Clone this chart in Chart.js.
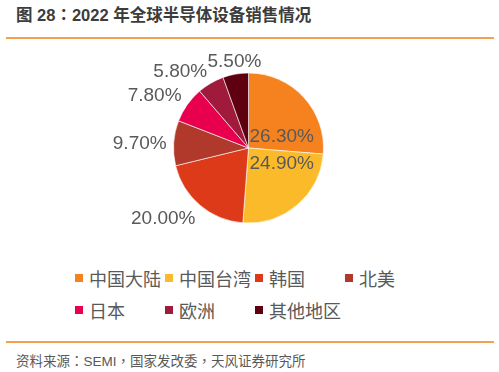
<!DOCTYPE html>
<html>
<head>
<meta charset="utf-8">
<script src="https://cdn.jsdelivr.net/npm/chart.js@4"></script>
<style>
    html, body { margin: 0; padding: 0; background: #fff; }
    body { width: 499px; height: 372px; position: relative; overflow: hidden;
           font-family: "Liberation Sans", "Noto Sans CJK SC", sans-serif; }
    .title { position: absolute; left: 16px; top: 2px; font-size: 16.5px; font-weight: bold; color: #3c3c3c; white-space: nowrap; }
    .rule { position: absolute; left: 6px; width: 488px; height: 2px; background: #f4a04c; }
    .chart-box { position: absolute; left: 0; top: 40px; width: 499px; height: 216px; }
    .legend { position: absolute; left: 75px; top: 262px; display: grid;
              grid-template-columns: 90px 90px 90px 90px; grid-auto-rows: 32px; }
    .legend-item { display: flex; align-items: center; font-size: 18px; color: #595959; white-space: nowrap; }
    .legend-item i { display: inline-block; width: 8px; height: 8px; margin-right: 6px; }
    .source { position: absolute; left: 16px; top: 350px; font-size: 13.5px; color: #595959; white-space: nowrap; }
    .p { font-family: "Noto Sans CJK TC", sans-serif; }
</style>
</head>
<body>
<div class="title">图 28<span class="p">：</span>2022 年全球半导体设备销售情况</div>
<div class="rule" style="top:37px"></div>
<div class="chart-box"><canvas id="pieChart"></canvas></div>
<div class="legend" id="legend"></div>
<div class="rule" style="top:341px"></div>
<div class="source">资料来源<span class="p">：</span>SEMI<span class="p">，</span>国家发改委<span class="p">，</span>天风证券研究所</div>

<script>
// ---- data ----
const regions = ["中国大陆", "中国台湾", "韩国", "北美", "日本", "欧洲", "其他地区"];
const shares = [26.3, 24.9, 20.0, 9.7, 7.8, 5.8, 5.5];
const colors = ["#f5821f", "#fbba2a", "#dc3a19", "#b0392b", "#e8004f", "#a01a3c", "#5e0010"];

const labelFont = "19px 'Liberation Sans', sans-serif";
const labelColor = "#595959";

// percent labels: the two big slices sit inside, the rest outside at the slice's mid angle
const pieLabels = {
    id: "pieLabels",
    afterDatasetsDraw(chart) {
        const ctx = chart.ctx;
        const arcs = chart.getDatasetMeta(0).data;
        const capH = 19 * 0.72;
        ctx.save();
        ctx.font = labelFont;
        ctx.fillStyle = labelColor;
        ctx.textBaseline = "alphabetic";
        arcs.forEach((arc, i) => {
            const { x, y, startAngle, endAngle, outerRadius } = arc.getProps(["x", "y", "startAngle", "endAngle", "outerRadius"]);
            const mid = (startAngle + endAngle) / 2;
            const cos = Math.cos(mid), sin = Math.sin(mid);
            const text = shares[i].toFixed(2) + "%";

            if (shares[i] > 22) {
                ctx.textAlign = "left";
                const cy = y + sin * outerRadius * 0.25;
                ctx.fillText(text, x + 1, cy + capH / 2);
                return;
            }

            const r = outerRadius + 7;
            const px = x + cos * r, py = y + sin * r;
            ctx.textAlign = cos < -0.3 ? "right" : (cos > 0.3 ? "left" : "center");
            let ty;
            if (sin < -0.3) ty = py;
            else if (sin > 0.3) ty = py + capH;
            else ty = py + capH / 2;
            ctx.fillText(text, px, ty);
        });
        ctx.restore();
    }
};

new Chart(document.getElementById("pieChart"), {
    type: "pie",
    data: {
        labels: regions,
        datasets: [{
            data: shares,
            backgroundColor: colors,
            borderColor: "rgba(255,255,255,0.6)",
            borderWidth: 1,
            hoverOffset: 0,
            radius: 75
        }]
    },
    options: {
        responsive: true,
        maintainAspectRatio: false,
        animation: false,
        events: [],
        layout: { padding: { left: 0, right: 2, top: 0, bottom: 0 } },
        plugins: {
            legend: { display: false },
            tooltip: { enabled: false }
        }
    },
    plugins: [pieLabels]
});

// legend grid, built from the same arrays
document.getElementById("legend").innerHTML = regions.map((name, i) =>
    `<div class="legend-item"><i style="background:${colors[i]}"></i>${name}</div>`
).join("");
</script>
</body>
</html>
